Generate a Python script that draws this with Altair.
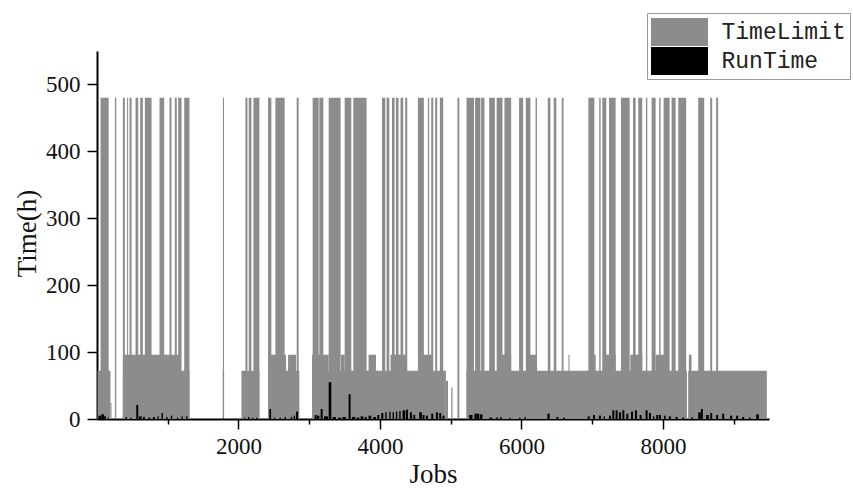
import altair as alt
import pandas as pd

# ---- TimeLimit: runs of consecutive jobs [start, end) sharing one requested limit (hours)
tl_start = [
    # 72 h runs
    8, 366, 1778, 2042, 2418, 3049, 5224, 8358,
    # shorter limits
    190, 4932, 5008,
    # 96 h runs
    366, 2437, 2701, 3040, 3449, 3839, 4150, 4555, 5657, 6090, 6665, 7002, 7171, 7539, 7897, 8367,
    # 480 h runs
    50, 253, 366, 425, 460, 545, 611, 677, 884, 1025, 1100, 1148, 1233, 1780,
    2098, 2145, 2211, 2418, 2522, 2823, 3049, 3143, 3275, 3501, 3623,
    4029, 4094, 4170, 4226, 4291, 4357, 4537, 4678, 4725, 4781, 4847,
    5095, 5224, 5345, 5430, 5544, 5650, 5760, 5967, 6062, 6200, 6373, 6457, 6570,
    6946, 7100, 7143, 7238, 7407, 7577, 7652, 7760, 7841, 7948, 8010, 8123, 8217,
    8499, 8669, 8753,
]
tl_end = [
    190, 1307, 1797, 2296, 2861, 4932, 8339, 9470,
    205, 4962, 5026,
    1167, 2673, 2814, 3275, 3501, 3944, 4376, 4734, 5855, 6221, 6680, 7050, 7332, 7708, 8040, 8405,
    165, 272, 394, 440, 489, 583, 648, 771, 950, 1053, 1128, 1195, 1307, 1795,
    2127, 2183, 2296, 2465, 2653, 2851, 3134, 3200, 3444, 3595, 3811,
    4075, 4132, 4207, 4263, 4329, 4386, 4621, 4696, 4753, 4809, 4894,
    5122, 5330, 5420, 5477, 5625, 5732, 5855, 6024, 6127, 6220, 6409, 6494, 6595,
    7031, 7120, 7200, 7332, 7530, 7614, 7708, 7780, 7897, 7968, 8095, 8180, 8329,
    8584, 8697, 8781,
]
tl_hours = (
    [72, 72, 72, 72, 72, 72, 72, 72]
    + [24, 57, 47]
    + [96] * 16
    + [480] * 65
)

# ---- RunTime: actual hours used, over runs of jobs [start, end)
rt_start = [
    20, 60, 100, 150,
    404, 470, 555, 592, 648, 724, 790, 856, 912, 978, 1044, 1128, 1195, 1261,
    1782, 2080, 2136, 2193, 2249,
    2437, 2500, 2580, 2650, 2740, 2780, 2814,
    3077, 3110, 3162, 3209, 3275, 3331, 3407, 3472, 3557, 3604, 3670, 3727, 3783,
    3839, 3906, 3962, 4019, 4075, 4132, 4179, 4226, 4273, 4320, 4367, 4424, 4471,
    4555, 4602, 4649, 4725, 4791, 4838, 4884,
    5261, 5336, 5364, 5411, 5544, 5638, 5700, 5826, 5967, 6043, 6367, 6494, 6588,
    6937, 7012, 7096, 7162, 7238, 7285, 7332, 7379, 7426, 7483, 7549, 7605, 7671,
    7755, 7803, 7859, 7906, 7944, 8015, 8085, 8180, 8274, 8405, 8499, 8537, 8612,
    8669, 8753, 8838, 8951, 9036, 9121, 9215, 9319,
]
rt_end = [
    60, 100, 125, 170,
    422, 489, 583, 630, 677, 753, 818, 874, 931, 997, 1063, 1148, 1213, 1280,
    1795, 2098, 2155, 2211, 2268,
    2461, 2520, 2600, 2670, 2760, 2800, 2842,
    3105, 3143, 3190, 3266, 3312, 3378, 3454, 3520, 3585, 3651, 3708, 3764, 3811,
    3877, 3944, 3990, 4047, 4094, 4150, 4198, 4245, 4292, 4357, 4396, 4452, 4499,
    4593, 4630, 4678, 4753, 4819, 4866, 4912,
    5308, 5364, 5402, 5449, 5590, 5667, 5720, 5845, 5986, 6062, 6400, 6522, 6616,
    6965, 7040, 7124, 7181, 7266, 7313, 7360, 7407, 7455, 7511, 7577, 7633, 7699,
    7784, 7831, 7878, 7934, 7972, 8038, 8113, 8208, 8302, 8424, 8537, 8565, 8650,
    8697, 8781, 8866, 8979, 9064, 9149, 9243, 9357,
]
rt_hours = [
    5, 7, 4, 2,
    3, 2, 21, 4, 3, 2, 3, 4, 9, 3, 5, 2, 4, 4,
    1, 2, 3, 2, 2,
    15, 2, 2, 3, 3, 5, 11,
    6, 5, 15, 4, 55, 3, 2, 3, 37, 3, 2, 4, 3,
    5, 3, 6, 9, 10, 11, 10, 11, 12, 13, 14, 10, 6,
    10, 6, 5, 8, 10, 9, 5,
    6, 8, 8, 7, 2, 2, 3, 2, 2, 3, 8, 3, 2,
    4, 6, 5, 4, 5, 13, 13, 10, 13, 8, 11, 13, 6,
    13, 9, 4, 6, 6, 5, 4, 3, 2, 3, 10, 15, 6,
    9, 6, 8, 5, 5, 3, 2, 7,
]

limits = pd.DataFrame({"start": tl_start, "end": tl_end, "hours": tl_hours,
                       "series": "TimeLimit", "base": 0})
runs = pd.DataFrame({"start": rt_start, "end": rt_end, "hours": rt_hours,
                     "series": "RunTime", "base": 0})

SERIF = "Liberation Serif"

x_scale = alt.Scale(domain=[0, 9500], nice=False, zero=False)
y_scale = alt.Scale(domain=[0, 550], nice=False)

x_axis = alt.Axis(
    values=list(range(1000, 10000, 1000)),
    labelExpr="datum.value % 2000 === 0 ? datum.label : ''",
    format="d",
    tickSize={"condition": {"test": "datum.value % 2000 === 0", "value": 10}, "value": 5},
    tickWidth=1.5, tickColor="black",
    domainColor="black", domainWidth=2,
    labelFont=SERIF, labelFontSize=23, labelColor="#111", labelPadding=6,
    labelFlush=False, labelOverlap=False,
    title="Jobs", titleFont=SERIF, titleFontSize=27, titleFontWeight="normal",
    titleColor="#111", titleBaseline="alphabetic", titleY=63,
    grid=False,
)
y_axis = alt.Axis(
    values=list(range(0, 551, 50)),
    labelExpr="datum.value % 100 === 0 ? datum.label : ''",
    tickSize={"condition": {"test": "datum.value % 100 === 0", "value": 10}, "value": 5},
    tickWidth=1.5, tickColor="black",
    domainColor="black", domainWidth=2,
    labelFont=SERIF, labelFontSize=23, labelColor="#111", labelPadding=7,
    labelFlush=False, labelOverlap=False,
    title="Time(h)", titleFont=SERIF, titleFontSize=27, titleFontWeight="normal",
    titleColor="#111", titleAngle=-90, titleBaseline="alphabetic",
    titleX=-62, titleY=182, titleAlign="center",
    grid=False,
)

# Legend swatches are 57x28 rectangles; the symbol size sets a 30 px row.
color = alt.Color(
    "series:N",
    scale=alt.Scale(domain=["TimeLimit", "RunTime"], range=["#8c8c8c", "#000000"]),
    legend=alt.Legend(
        title=None, orient="none", legendX=550, legendY=-38,
        direction="vertical",
        symbolType="M-1.9,-0.93H1.9V0.93H-1.9Z", symbolSize=900,
        symbolOffset=13.5, symbolStrokeWidth=0, symbolOpacity=1,
        labelFont="Liberation Mono", labelFontSize=23, labelColor="#222",
        labelOffset=27, rowPadding=0, padding=4,
        strokeColor="#9a9a9a", fillColor="white",
    ),
)

limit_bars = alt.Chart(limits).mark_rect(strokeWidth=0).encode(
    x=alt.X("start:Q", scale=x_scale, axis=x_axis),
    x2="end:Q",
    y=alt.Y("hours:Q", scale=y_scale, axis=y_axis),
    y2="base:Q",
    color=color,
)

run_bars = alt.Chart(runs).mark_rect(strokeWidth=0).encode(
    x=alt.X("start:Q", scale=x_scale),
    x2="end:Q",
    y=alt.Y("hours:Q", scale=y_scale),
    y2="base:Q",
    color=color,
)

chart = (
    alt.layer(limit_bars, run_bars)
    .properties(
        width=672, height=368,
        padding={"left": 97, "top": 51, "right": 84, "bottom": 72},
        autosize=alt.AutoSizeParams(type="none"),
        background="white",
    )
    .configure_view(stroke=None)
)

chart.save("out.html", embed_options={"renderer": "svg", "actions": False})
